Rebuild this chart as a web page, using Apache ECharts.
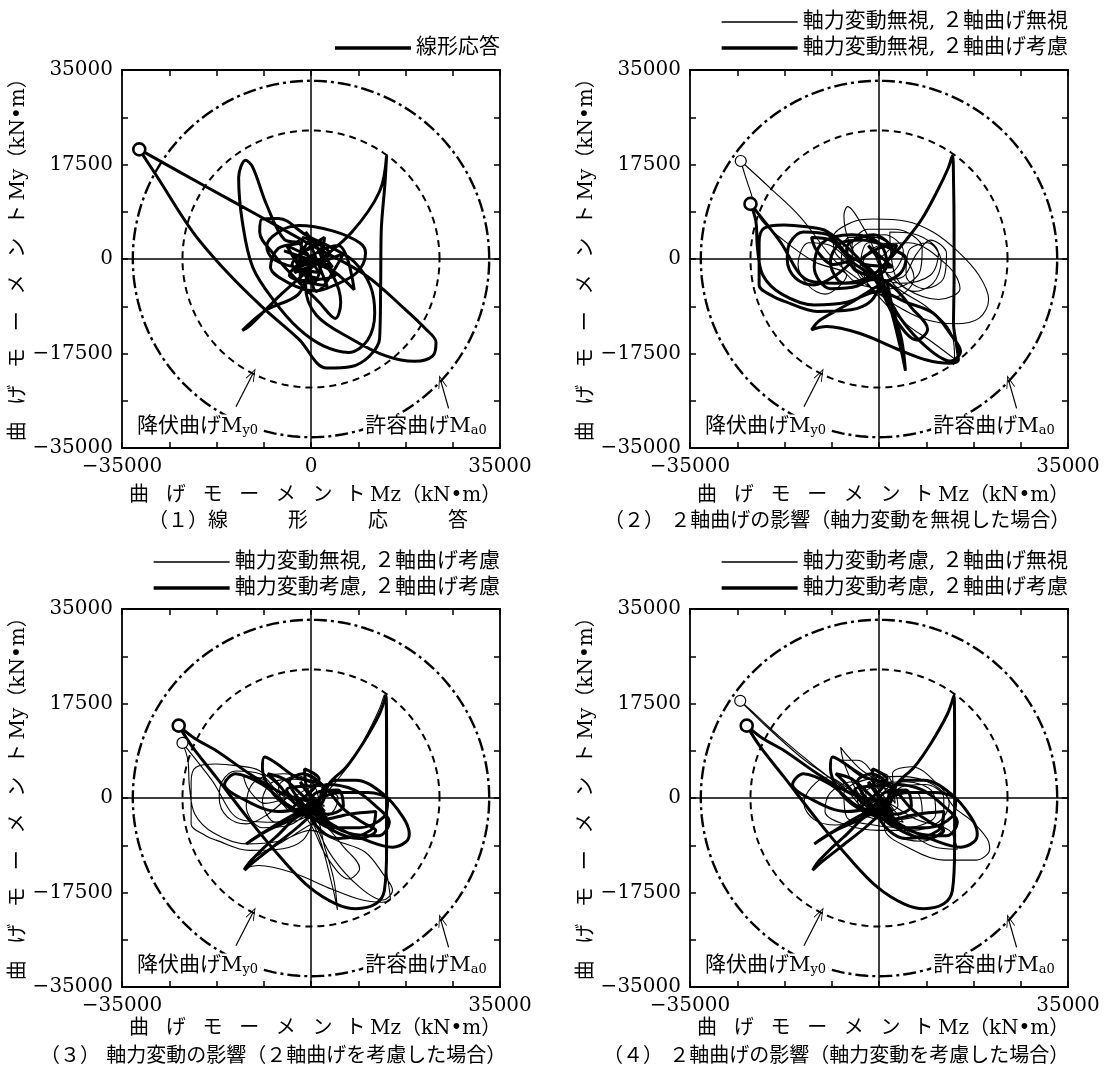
<!DOCTYPE html>
<html>
<head>
<meta charset="utf-8">
<script src="https://cdn.jsdelivr.net/npm/echarts@6/dist/echarts.min.js"></script>
<style>
  html, body { margin: 0; padding: 0; background: #fff; }
  #chart { width: 1104px; height: 1074px; }
</style>
</head>
<body>
<div id="chart"></div>
<script>
// 軸の範囲と目盛 (kN・m)
const axisMin = -35000
const axisMax = 35000
const tickStep = 8750
const yTickLabels = [-35000, -17500, 0, 17500, 35000]
const xTickLabels1 = [-35000, 0, 35000]
const xTickLabels234 = [-35000, 35000]

// 降伏曲げ My0 / 許容曲げ Ma0 の半径
const My0 = 23800
const Ma0 = 33000

// 凡例名
const nameA = '線形応答'
const nameB = '軸力変動無視, ２軸曲げ無視'
const nameC = '軸力変動無視, ２軸曲げ考慮'
const nameD = '軸力変動考慮, ２軸曲げ考慮'
const nameE = '軸力変動考慮, ２軸曲げ無視'

// 軌跡 [Mz, My]
const lineA = [
  [0,0],[-2500,3500],[1500,-2500],[-3500,-1000],[2500,4000],[500,-4500],[-4500,2500],[4000,-1500],[-1000,5000],[3000,-5000],[-4000,-3000],[5000,2500],[8000,-5700],[3000,-1500],
  [-3000,0],[2000,3000],[1000,-3500],[-2500,-2000],[3500,1000],[-1500,4000],[-2000,-4000],[4500,-3000],[-5000,1500],[2500,-1000],[0,3500],[-3000,-2500],[6000,1000],[1000,-6000],[-1000,0],
  [-2000,-1500],[-7000,0],[-8200,2400],[-6000,5000],[-2300,6200],[4000,5200],[9000,3000],[10100,1100],[8500,-2500],[4000,-5000],[1000,-5900],[-4000,-4500],[-7500,-1500],[-6000,2000],[-2000,3000],
  [-4900,3600],[-8200,10000],[-10800,17000],[-12100,18300],[-13400,15100],[-12700,6800],[-10800,-1500],[-6800,-7800],[-2300,-12900],[2300,-16100],[7000,-17300],[10500,-15000],[11800,-10000],[11000,-5000],[8000,-500],[4000,2000],
  [-1000,4500],[-6000,7500],[-9100,7400],[-9500,5000],[-7000,1000],[-3000,-3500],[1500,-8000],[4500,-11000],[5500,-8000],[4000,-3000],[1000,0],
  [-2300,-6500],[-8200,-9400],[-12700,-13200],[-11500,-12500],[-5500,-6500],[1000,-800],[7500,4900],[12700,12500],[14000,19200],
  [13700,14000],[13000,5000],[12900,-5000],[12700,-14800],[10800,-18000],[7500,-19900],[2900,-20200],[-2300,-14800],[-8800,-9100],[-15300,-2700],[-21800,4900],[-28400,15100],[-31800,20300],
  [-20000,13700],[-10000,8200],[0,2600],[10000,-2900],[17300,-9200],[21200,-12900],[23150,-15450],[22500,-18000],[19200,-18950],[14000,-18000],[7500,-14800],[1000,-10400],[-1000,-5000],[0,0]
]
const lineB = [
  [0,0],[2500,2500],[-2000,3000],[-3500,-1500],[2000,-2500],[4500,1500],[1000,4500],[-5000,1500],[-2500,-4000],[4000,-3500],[7000,1000],
  [9500,3500],[12500,1000],[12000,-3500],[8500,-5500],[5000,-3000],[5500,1500],[9000,3000],[11500,-500],[10000,-4500],[6500,-6000],[3000,-3000],
  [2000,5000],[7000,4500],[11000,1000],[9500,-3000],[4000,-4500],[-2000,-2000],[-5000,2500],[-2000,5500],[3000,5500],[8000,2000],[7500,-2500],[2000,-5500],[-4000,-4500],[-7000,-500],[-5500,4000],[-1000,4000],[4000,1000],[6500,-3500],[3000,-7000],[-1500,-5500],[-3000,-1000],[0,2500],[5500,3000],[13000,-1500],[15000,-5500],[11000,-7500],[5000,-5500],[0,-1000],
  [-1000,2000],[-3000,6000],[-5800,9700],[-6500,8000],[-5500,3000],[-3000,-1500],[0,-4000],
  [-4000,-2000],[-8000,1000],[-8500,4000],[-5000,6800],[-1000,7400],[5000,7000],[10000,5000],[14500,1500],[18500,-3000],[20300,-7500],[18500,-11000],[14000,-12000],[8000,-11000],[3000,-8500],[-2000,-5000],
  [-8000,-500],[-14600,7800],[-20000,13000],[-25600,18150],[-24800,15500],[-23900,12800],[-22000,7500],[-17700,3500],[-12000,-500],[-6000,-3000],
  [-10000,-6500],[-13000,-5000],[-15000,-1000],[-13000,3000],[-9000,2500],[-5000,-1000],
  [0,-7000],[5000,-12000],[10000,-15500],[14000,-18500],[13500,-14000],[9000,-9000],[3000,-5000],[0,0]
]
const lineC = [
  [0,0],[-2000,2500],[2500,-1500],[-3500,-500],[1500,2500],[3300,2600],[2000,0],
  [5000,3500],[8000,7500],[11000,13000],[12800,16800],[13600,19100],[13800,14600],[13900,5400],[13900,-3900],[13800,-11900],[14400,-16200],[14700,-18700],[13100,-19300],[8800,-18700],[3900,-16900],[-3500,-13800],[-9700,-12500],[-12500,-13100],[-10900,-11300],[-5400,-8200],[-400,-5100],[3900,-2700],[5000,0],[2000,2000],
  [-3000,3500],[-7000,3000],[-9000,-500],[-6500,-4500],[-2000,-4000],[1500,-1000],[0,3000],[-5000,4500],[-10500,3000],[-12000,-1500],[-9000,-5500],[-4000,-5000],[0,-2000],[2500,1500],[-1000,4500],[-6000,2000],[-4500,-2000],[0,-3500],[3000,-5500],[6000,-9000],[9000,-13000],[7000,-15000],[3000,-11000],[0,-5000],
  [-4100,400],[-9600,5100],[-13900,6000],[-17600,6300],[-21300,5700],[-22200,3000],[-22200,-2000],[-22200,-4800],[-19500,-7000],[-17600,-7800],[-11400,-9700],[-5200,-9400],[-1500,-7800],[1000,-4000],
  [2500,-9000],[4200,-15000],[4900,-20700],[4000,-16500],[1400,-7000],[-1500,-2000],
  [-6000,1000],[-9500,4500],[-14000,5000],[-16500,3000],[-17000,0],[-15500,-3500],[-12000,-4800],[-8000,-3000],[-4500,0],
  [-8500,-1000],[-11500,1500],[-12500,4000],[-9000,3500],[-5000,-500],[-2000,-3000],
  [-7000,-4500],[-13000,-4000],[-18500,3500],[-23800,10200],[-22800,7000],[-22500,2000],[-21500,-3000],[-18000,-6500],[-12000,-8500],[-6000,-8000],[0,-6000],
  [5000,-8000],[10000,-10000],[13300,-14000],[15100,-17100],[13300,-18900],[9000,-16500],[4000,-11000],[1000,-5000],[0,0]
]
const lineD = [
  [0,0],[-2000,3000],[2500,-2500],[-3500,-2000],[1500,3500],[-1200,5400],[-500,1000],[3000,-4000],[-4500,1500],[2000,2500],
  [-3000,4000],[-6500,6500],[-8600,7600],[-9000,5500],[-7500,1500],[-4500,-1500],[-1000,-3000],
  [4600,3300],[8300,3300],[13300,800],[17000,-3500],[18200,-6600],[17600,-8100],[15100,-9100],[10200,-7800],[5000,-5500],[1500,-2500],
  [3000,2500],[8000,1500],[12000,-1500],[14500,-4500],[12500,-7000],[7000,-6500],[2000,-4000],[-2000,-500],[-4000,3000],[-1500,4500],[2500,2000],[6000,-2000],[9500,-4500],[12000,-6000],[9000,-7500],[4000,-6000],[0,-2500],[-3000,-1000],[-6000,2500],[-8000,4500],[-5000,3500],[-1000,0],[3000,-3000],[6000,-1500],[5000,1500],[1000,1000],[-2000,-3000],[-8000,-6000],[-12000,-8500],[-9000,-6500],[-3000,-3000],
  [5500,1000],[10500,1000],[14200,-400],[13500,-3500],[9000,-5500],[3500,-5500],[-1000,-3000],
  [-6500,-7200],[-11000,-11500],[-12300,-13400],[-11400,-12500],[-7000,-9000],[-2000,-5000],[2000,-1000],
  [3400,2700],[6500,5700],[9600,10100],[12700,15600],[13900,19000],[14000,10000],[14000,0],[14000,-9100],[13600,-17100],[12000,-19600],[8300,-20500],[4600,-19600],[-300,-16500],[-5200,-11500],[-11400,-4100],[-17600,3900],[-22000,9500],[-24500,13400],
  [-21500,11000],[-17600,8800],[-11400,4500],[-5200,800],[0,-1000],
  [-6000,-2500],[-13000,0],[-16000,2500],[-14000,4500],[-9000,2500],[-4000,-1500],[2000,-4000],[7000,-3000],[12000,-2500],[11000,-6000],[5000,-7500],[0,-3000],[0,0]
]
const lineE = [
  [0,0],[2500,3000],[-2500,2000],[-1000,-3000],[3500,-1500],[1000,4500],[-4000,-500],[4500,-4500],[-1500,3500],[3000,1500],
  [-3000,5000],[-6000,8000],[-7100,9400],[-6500,6500],[-4500,2000],[-1500,-2500],
  [-5000,3000],[-9000,1000],[-10000,-2500],[-6000,-5000],[0,-6000],[6000,-6000],[11000,-4500],[13000,-1000],[10000,2500],[4000,4000],[-2000,3500],[-6500,800],[-6000,-3500],[-1000,-5000],[5000,-5500],[10500,-3000],[10000,1000],[5000,3000],[0,2500],[-3500,0],[-2000,-3500],[3000,-4000],[8000,-2500],[7000,1000],[2000,1500],[-4000,5000],[-7000,7000],[-4000,7000],[0,3000],[3000,-1000],
  [2500,4500],[6000,5800],[11400,2000],[13900,-1700],[17000,-4100],[20000,-7500],[20500,-9500],[18000,-11500],[12000,-11500],[6000,-9500],[1000,-5500],
  [4000,2000],[8500,2500],[12000,0],[12000,-5000],[8000,-8000],[3000,-7000],[-1000,-3000],
  [-6000,2000],[-9600,3900],[-12500,2000],[-13900,-1000],[-12000,-4000],[-8000,-5000],[-3000,-3000],
  [-6500,2000],[-10200,4500],[-14500,7600],[-20700,13100],[-25700,18000],[-24000,16500],[-18000,11000],[-12000,6000],[-6000,1500],[0,-1500],
  [5000,-6000],[10000,-9000],[14500,-9500],[13000,-6000],[7000,-4000],[2000,-1000],[0,0]
]

const FONT = '"DejaVu Serif", "Noto Sans CJK JP", serif'
const CJK = '"DejaVu Serif", "Noto Sans CJK JP", sans-serif'

// 4つのパネル
const panels = [
  { left: 122, top: 70, xLabels: xTickLabels1, thin: null, thick: [nameA, lineA], gapX: 38,
    caption: '（１）線　　　形　　　応　　　答', capLeft: 148, capTop: 512 },
  { left: 690, top: 70, xLabels: xTickLabels234, thin: [nameB, lineB], thick: [nameC, lineC], gapX: 38,
    caption: '（２） ２軸曲げの影響（軸力変動を無視した場合）', capLeft: 604, capTop: 512 },
  { left: 122, top: 609, xLabels: xTickLabels234, thin: [nameC, lineC], thick: [nameD, lineD], gapX: 32,
    caption: '（３） 軸力変動の影響（２軸曲げを考慮した場合）', capLeft: 40, capTop: 1047 },
  { left: 690, top: 609, xLabels: xTickLabels234, thin: [nameE, lineE], thick: [nameD, lineD], gapX: 32,
    caption: '（４） ２軸曲げの影響（軸力変動を考慮した場合）', capLeft: 603, capTop: 1047 }
]

function fmt(v) {
  return v < 0 ? '−' + (-v) : String(v)
}

// 円 (半径から)
function ring(r) {
  let pts = []
  for (let a = 0; a <= 360; a += 2) {
    let t = a * Math.PI / 180
    pts.push([r * Math.cos(t), r * Math.sin(t)])
  }
  return pts
}

// 最大応答点 (○印)
function peakPoint(arr) {
  let best = arr[0], bm = 0
  arr.forEach(p => {
    let m = p[0] * p[0] + p[1] * p[1]
    if (m > bm) { bm = m; best = p }
  })
  return best
}

const nameRich = {
  c: { width: 36.7, fontSize: 20, fontFamily: CJK, color: '#000' },
  t: { width: 29, fontSize: 20, fontFamily: CJK, color: '#000' }
}
const xName = '{c|曲}{c|げ}{c|モ}{c|ー}{c|メ}{c|ン}{t|ト}Mz（kN•m）'
const yName = '{c|曲}{c|げ}{c|モ}{c|ー}{c|メ}{c|ン}{t|ト}My（kN•m）'

const arrowPath = 'path://M5,0 L10,14 L9,14 L5,2.8 L1,14 L0,14 Z'

let grid = [], xAxis = [], yAxis = [], series = [], title = [], legend = []

function baseAxis(i, pos) {
  return {
    type: 'value', gridIndex: i, position: pos,
    min: axisMin, max: axisMax, interval: tickStep,
    axisLine: { show: true, onZero: false, lineStyle: { color: '#000', width: 1.8 } },
    axisTick: { show: true, inside: true, length: 6, lineStyle: { color: '#000', width: 1.5 } },
    axisLabel: { show: false },
    splitLine: { show: false }
  }
}

panels.forEach((p, i) => {
  grid.push({ left: p.left, top: p.top, width: 378, height: 378 })

  let xb = baseAxis(i, 'bottom')
  xb.axisLabel = {
    show: true, margin: 9, color: '#000', fontFamily: '"DejaVu Serif"', fontSize: 20,
    showMinLabel: true, showMaxLabel: true,
    formatter: v => p.xLabels.includes(v) ? fmt(v) : ''
  }
  xb.name = xName
  xb.nameLocation = 'middle'
  xb.nameGap = p.gapX
  xb.nameTextStyle = { color: '#000', fontSize: 20, fontFamily: FONT, rich: nameRich }
  xAxis.push(xb)

  let yl = baseAxis(i, 'left')
  yl.axisLabel = {
    show: true, margin: 9, color: '#000', fontFamily: '"DejaVu Serif"', fontSize: 20,
    showMinLabel: true, showMaxLabel: true,
    formatter: v => yTickLabels.includes(v) ? fmt(v) : ''
  }
  yl.name = yName
  yl.nameLocation = 'middle'
  yl.nameRotate = 90
  yl.nameGap = 91
  yl.nameTextStyle = { color: '#000', fontSize: 20, fontFamily: FONT, rich: nameRich }
  yAxis.push(yl)

  title.push({
    text: p.caption, left: p.capLeft, top: p.capTop, padding: 0,
    textStyle: { fontSize: 20, fontWeight: 'normal', fontFamily: CJK, color: '#000' }
  })
})

// 上側・右側の枠と目盛
panels.forEach((p, i) => {
  xAxis.push(baseAxis(i, 'top'))
  yAxis.push(baseAxis(i, 'right'))
})

panels.forEach((p, i) => {
  // 降伏曲げ (破線) + 原点を通る軸線
  series.push({
    type: 'line', xAxisIndex: i, yAxisIndex: i, data: ring(My0),
    showSymbol: false, symbol: 'none', silent: true, z: 1,
    lineStyle: { color: '#000', width: 2, type: [7, 5] },
    markLine: {
      silent: true, symbol: 'none', label: { show: false },
      lineStyle: { color: '#000', width: 1.5, type: 'solid' },
      data: [{ xAxis: 0 }, { yAxis: 0 }]
    }
  })
  // 許容曲げ (一点鎖線) + 注記
  series.push({
    type: 'line', xAxisIndex: i, yAxisIndex: i, data: ring(Ma0),
    showSymbol: false, symbol: 'none', silent: true, z: 1,
    lineStyle: { color: '#000', width: 2.4, type: [13, 4, 3, 4] },
    markLine: {
      silent: true, symbol: ['none', arrowPath], symbolSize: [9, 13],
      label: { show: false },
      lineStyle: { color: '#000', width: 1.2, type: 'solid' },
      data: [
        [{ coord: [-13900, -27350] }, { coord: [-10810, -21350] }],
        [{ coord: [25480, -27650] }, { coord: [24070, -22700] }]
      ]
    },
    markPoint: {
      silent: true, symbol: 'circle', symbolSize: 1,
      itemStyle: { color: 'rgba(0,0,0,0)' },
      label: {
        show: true, color: '#000', fontSize: 21, fontFamily: FONT,
        backgroundColor: '#fff', padding: [1, 2, 1, 2],
        rich: { s: { fontSize: 13, fontFamily: FONT, color: '#000', padding: [9, 0, 0, 0] } }
      },
      data: [
        { coord: [-32700, -31000], label: { position: 'right', distance: 0, formatter: '降伏曲げM{s|y0}' } },
        { coord: [33000, -31000], label: { position: 'left', distance: 0, formatter: '許容曲げM{s|a0}' } }
      ]
    }
  })

  let tracks = []
  if (p.thin) tracks.push([p.thin, false])
  tracks.push([p.thick, true])
  tracks.forEach(([tr, thick]) => {
    series.push({
      type: 'line', name: tr[0], xAxisIndex: i, yAxisIndex: i, data: tr[1],
      smooth: 0.35, showSymbol: false, symbol: 'none', silent: true, z: thick ? 4 : 3,
      lineStyle: { color: '#000', width: thick ? 3 : 1.1 },
      itemStyle: { color: '#000' }
    })
    series.push({
      type: 'scatter', xAxisIndex: i, yAxisIndex: i, data: [peakPoint(tr[1])],
      symbol: 'circle', symbolSize: thick ? 12 : 11, silent: true, z: 6,
      itemStyle: { color: '#fff', borderColor: '#000', borderWidth: thick ? 2.6 : 1.2, opacity: 1 }
    })
  })
})

const legendBase = {
  padding: 0, itemWidth: 76, icon: 'rect', selectedMode: false,
  textStyle: { fontSize: 21, fontFamily: CJK, color: '#000' }
}
const legendRows = [
  [604, 37.5, nameA, 3.5],
  [36, 11.5, nameB, 1.3], [36, 37.5, nameC, 3.5],
  [604, 551.5, nameC, 1.3], [604, 577.5, nameD, 3.5],
  [36, 551.5, nameE, 1.3], [36, 577.5, nameD, 3.5]
]
legendRows.forEach(r => {
  legend.push(Object.assign({}, legendBase, { right: r[0], top: r[1], data: [r[2]], itemHeight: r[3] }))
})

let myChart = echarts.init(document.getElementById('chart'))
myChart.setOption({
  animation: false,
  backgroundColor: '#fff',
  title, legend, grid, xAxis, yAxis, series
})
</script>
</body>
</html>
